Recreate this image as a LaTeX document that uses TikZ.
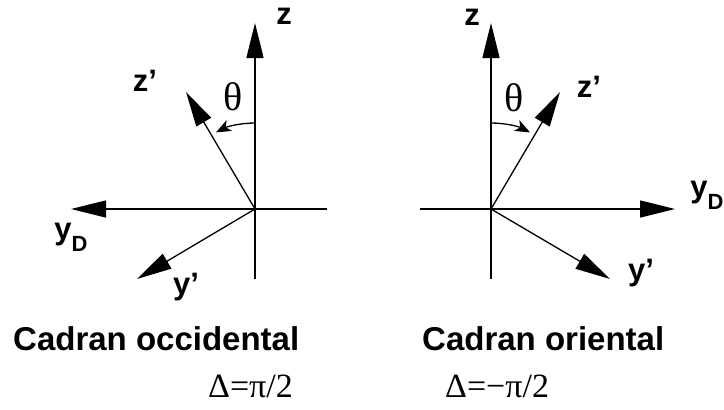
\documentclass[tikz,border=0pt]{standalone}
\usepackage{fontspec}
\setmainfont{Liberation Serif}
\newfontfamily\hv{Liberation Sans}
\usetikzlibrary{arrows.meta}
\tikzset{
  axis/.style={line width=1.3pt},
  bigarrow/.style={line width=1.3pt,-{Triangle[length=35pt,width=17pt]}},
  anglearrow/.style={line width=1.3pt,-{Stealth[length=15pt,width=12pt,inset=4pt]}},
  lbl/.style={inner sep=0pt,font=\hv\bfseries\fontsize{31}{31}\selectfont},
  title/.style={inner sep=0pt,anchor=base west,font=\hv\bfseries\fontsize{33}{33}\selectfont},
  greek/.style={inner sep=0pt,font=\fontsize{40}{40}\selectfont},
  delta/.style={inner sep=0pt,anchor=base west,font=\fontsize{34}{34}\selectfont}
}
\newcommand{\ysubD}{y\raisebox{-0.38em}{\fontsize{22}{22}\selectfont D}}
\begin{document}
\begin{tikzpicture}[x=1pt,y=-1pt]
\useasboundingbox (0,0) rectangle (724,410);
% ---------- left: Cadran occidental ----------
\coordinate (O1) at (255,209);
\coordinate (Z1) at (255,23);
\coordinate (B1) at (255,279);
\coordinate (Y1) at (71,209);
\coordinate (R1) at (327,209);
\coordinate (Zp1) at (186,92);
\coordinate (Yp1) at (137,279);
\coordinate (A1) at (255,123);
\draw[axis] (O1) -- (B1);
\draw[axis] (O1) -- (R1);
\draw[bigarrow] (O1) -- (Z1);
\draw[bigarrow] (O1) -- (Y1);
\draw[bigarrow] (O1) -- (Zp1);
\draw[bigarrow] (O1) -- (Yp1);
\draw[anglearrow] (A1) arc[start angle=-90,end angle=-117,radius=86];
\node[lbl] (lz1) at (284,16) {z};
\node[lbl] (lzp1) at (145,81) {z’};
\node[greek] (th1) at (233,97) {θ};
\node[lbl] (lyd1) at (71,237) {\ysubD};
\node[lbl] (lyp1) at (186,287) {y’};
\node[title] (t1) at (13,350) {Cadran occidental};
\node[delta] (d1) at (208,397) {Δ=π/2};
% ---------- right: Cadran oriental ----------
\coordinate (O2) at (491,209);
\coordinate (Z2) at (491,23);
\coordinate (B2) at (491,279);
\coordinate (L2) at (420,209);
\coordinate (Y2) at (675,209);
\coordinate (Zp2) at (560,92);
\coordinate (Yp2) at (610,279);
\coordinate (A2) at (491,123);
\draw[axis] (O2) -- (B2);
\draw[axis] (O2) -- (L2);
\draw[bigarrow] (O2) -- (Z2);
\draw[bigarrow] (O2) -- (Y2);
\draw[bigarrow] (O2) -- (Zp2);
\draw[bigarrow] (O2) -- (Yp2);
\draw[anglearrow] (A2) arc[start angle=-90,end angle=-63,radius=86];
\node[lbl] (lz2) at (472,17) {z};
\node[lbl] (lzp2) at (589,87) {z’};
\node[greek] (th2) at (514,98) {θ};
\node[lbl] (lyd2) at (707,195) {\ysubD};
\node[lbl] (lyp2) at (641,273) {y’};
\node[title] (t2) at (422,350) {Cadran oriental};
\node[delta] (d2) at (445,397) {Δ=−π/2};
\end{tikzpicture}
\end{document}
